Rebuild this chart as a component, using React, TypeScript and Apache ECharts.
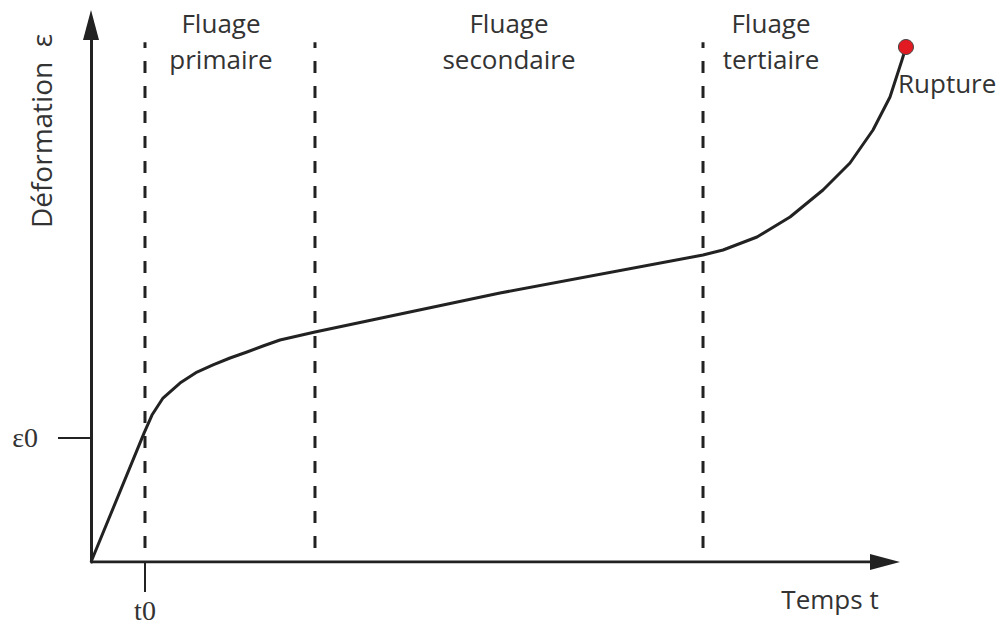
import React, { useEffect, useRef } from "react";
import * as echarts from "echarts";

// Creep curve (time t, strain ε) in arbitrary units
const curveT = [0, 6.68, 7.68, 9.07, 11.21, 13.35, 15.37, 17.51, 19.65, 21.66, 23.8, 28.21, 51.51, 77.08, 79.6, 83.88, 88.04, 92.19, 95.59, 98.49, 100.63, 102.14, 102.64];
const curveEps = [0, 24.0, 27.37, 30.54, 33.33, 35.38, 36.69, 37.99, 39.11, 40.22, 41.34, 42.83, 50.09, 57.17, 58.1, 60.52, 64.25, 69.27, 74.3, 80.45, 86.59, 93.48, 95.9];
// Phase boundaries (t0, end of primary, end of secondary)
const phaseBounds = [6.8, 28.21, 77.08];
const dashRange = [2.6, 96.8];
const t0 = 6.8;
const eps0 = 23.1;
const rupture = [102.64, 95.9];
// axis extents
const xMax = 104;
const xArrowAt = 100;
const yMax = 100;

const phaseLabels = [
  { x: 221, lines: ["Fluage", "primaire"] },
  { x: 509, lines: ["Fluage", "secondaire"] },
  { x: 771, lines: ["Fluage", "tertiaire"] },
];

const SANS = "'Open Sans', 'Noto Sans', sans-serif";
const SERIF = "'Liberation Serif', 'DejaVu Serif', serif";
const INK = "#222";
const TXT = "#333";

export default function App() {
  const ref = useRef<HTMLDivElement>(null);
  useEffect(() => {
    if (!ref.current) return;
    const chart = echarts.init(ref.current, undefined, { renderer: "svg" });
    const curve = curveT.map((t, i) => [t, curveEps[i]]);
    const dashSeries = phaseBounds.map((b) => ({
      type: "line",
      data: [[b, dashRange[0]], [b, dashRange[1]]],
      symbol: "none",
      clip: false,
      silent: true,
      lineStyle: { color: INK, width: 3, type: [12, 13] },
      z: 1,
    }));
    const graphics: any[] = [];
    phaseLabels.forEach((p) => {
      p.lines.forEach((l, i) => {
        graphics.push({
          type: "text",
          x: p.x,
          y: 23 + i * 36,
          style: { text: l, font: `26px ${SANS}`, fill: TXT, align: "center", verticalAlign: "middle" },
        });
      });
    });
    graphics.push({
      type: "text",
      x: 898,
      y: 83,
      style: { text: "Rupture", font: `26px ${SANS}`, fill: TXT, align: "left", verticalAlign: "middle" },
    });
    graphics.push({
      type: "text",
      x: 830,
      y: 599,
      style: { text: "Temps t", font: `26px ${SANS}`, fill: TXT, align: "center", verticalAlign: "middle" },
    });
    graphics.push({
      type: "text",
      x: 41,
      y: 131,
      rotation: Math.PI / 2,
      style: { text: "Déformation  ε", font: `28px ${SANS}`, fill: TXT, align: "center", verticalAlign: "middle" },
    });
    chart.setOption({
      animation: false,
      backgroundColor: "#fff",
      grid: { left: 91, top: 25, width: 7.94 * xMax, height: 537 },
      xAxis: {
        type: "value",
        min: 0,
        max: xMax,
        axisLine: { show: false },
        axisTick: { show: true, customValues: [t0], length: 30, lineStyle: { color: INK, width: 2 } },
        axisLabel: { show: true, customValues: [t0], formatter: () => "t0", margin: 34, fontSize: 28, fontFamily: SERIF, color: TXT },
        splitLine: { show: false },
      },
      yAxis: {
        type: "value",
        min: 0,
        max: yMax,
        axisLine: { show: true, symbol: ["none", "triangle"], symbolSize: [16, 30], lineStyle: { color: INK, width: 3 } },
        axisTick: { show: true, customValues: [eps0], length: 33, lineStyle: { color: INK, width: 2 } },
        axisLabel: { show: true, customValues: [eps0], formatter: () => "ε0", margin: 53, fontSize: 28, fontFamily: SERIF, color: TXT },
        splitLine: { show: false },
      },
      series: [
        // time axis line with arrow head
        {
          type: "line",
          data: [[0, 0], [xArrowAt, 0]],
          symbol: "none",
          silent: true,
          lineStyle: { color: INK, width: 3 },
          z: 2,
        },
        {
          type: "scatter",
          data: [[xArrowAt, 0]],
          symbol: "triangle",
          symbolSize: [16, 30],
          symbolRotate: -90,
          silent: true,
          itemStyle: { color: INK, opacity: 1 },
          z: 2,
        },
        ...dashSeries,
        {
          type: "line",
          data: curve,
          symbol: "none",
          smooth: false,
          clip: false,
          lineStyle: { color: INK, width: 3, join: "round" },
          z: 3,
        },
        {
          type: "scatter",
          data: [rupture],
          symbolSize: 15,
          clip: false,
          itemStyle: { color: "#e21b23", borderColor: "#444", borderWidth: 1, opacity: 1 },
          z: 4,
        },
      ],
      graphic: graphics,
    });
    return () => chart.dispose();
  }, []);
  return <div ref={ref} style={{ width: 1005, height: 626, position: "absolute", left: 0, top: 0 }} />;
}
